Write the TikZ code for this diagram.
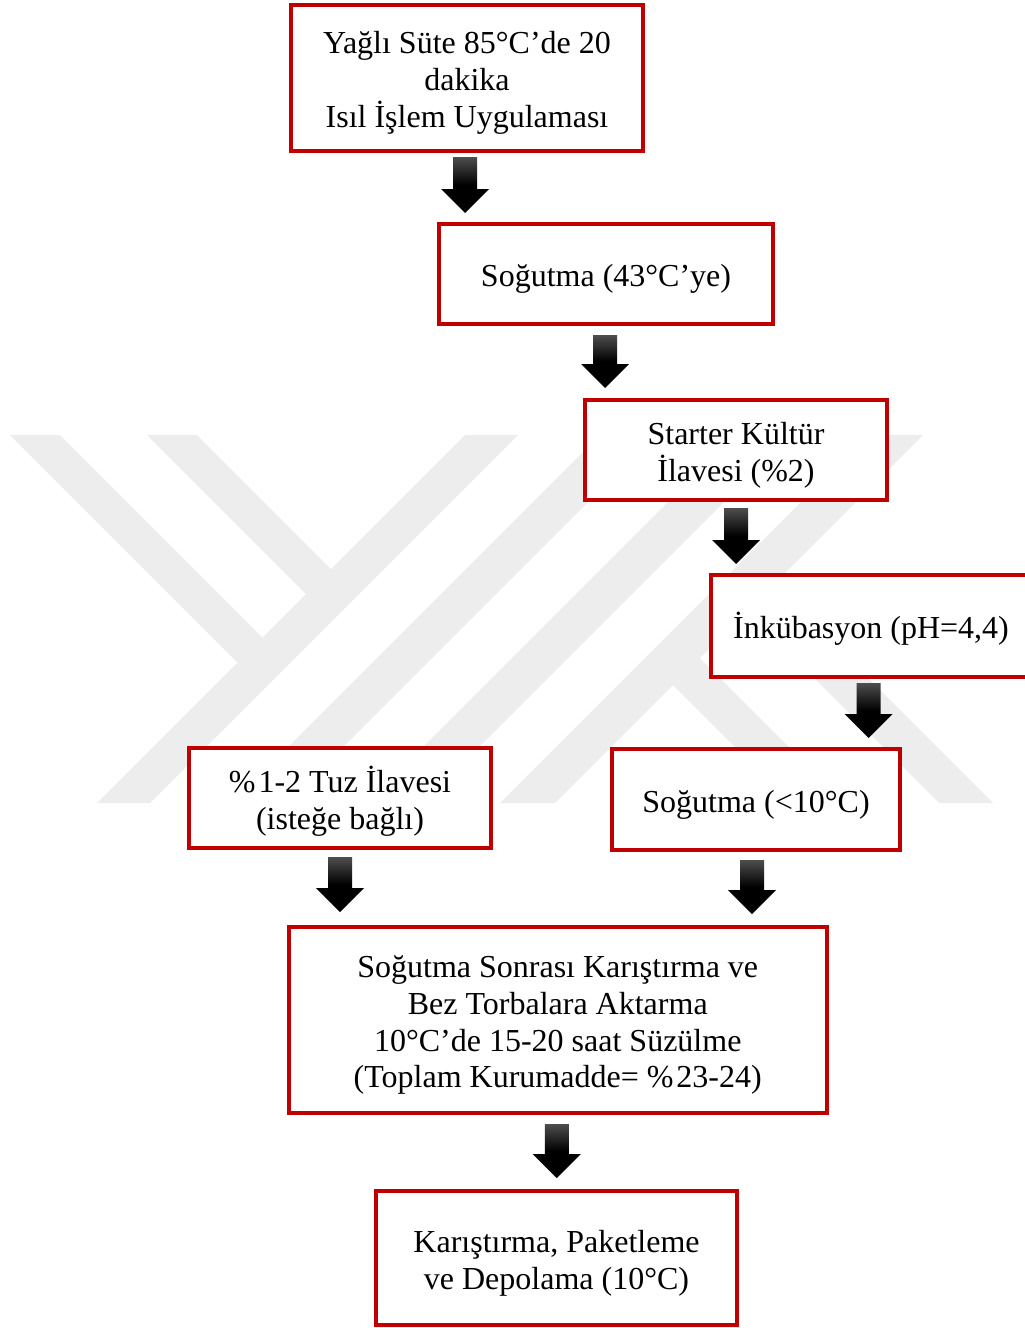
\documentclass[tikz,border=0pt]{standalone}
\usepackage{fontspec}
\setmainfont{Liberation Serif}
\usetikzlibrary{calc}
\definecolor{boxred}{RGB}{192,0,0}
\definecolor{wmgray}{RGB}{237,237,237}
\definecolor{arrowtop}{RGB}{78,78,78}
% uniform height for the first text line of every step
\newcommand{\firstline}{\rule{0pt}{32.5pt}}
% percent sign followed by a little extra room
\newcommand{\pct}{\%\kern3pt}
\tikzset{
  stepbox/.style={rectangle, draw=boxred, line width=4pt, fill=white,
    inner sep=0pt, outer sep=0pt, align=center,
    font=\fontsize{32}{36.8}\selectfont},
  blockarrow/.style={top color=arrowtop, bottom color=black, middle color=black,
    to path={let \p1=(\tikztostart), \p2=(\tikztotarget) in
      (\x1-12pt,\y1) -- (\x1+12pt,\y1) -- (\x1+12pt,\y2+24pt) -- (\x1+24pt,\y2+24pt)
      -- (\x1,\y2) -- (\x1-24pt,\y2+24pt) -- (\x1-12pt,\y2+24pt) -- cycle}},
  band/.style={fill=wmgray, draw=none}
}
\begin{document}
\begin{tikzpicture}[x=1pt,y=-1pt]
\useasboundingbox (0,0) rectangle (1025,1328);

% background emblem made of diagonal stripes
\path[band] (10,435) -- (60,435) -- (272.5,647.5) -- (247.5,672.5) -- cycle;
\path[band] (147,435) -- (197,435) -- (341,579) -- (316,604) -- cycle;
\path[band] (465,435) -- (518,435) -- (150,803) -- (97,803) -- cycle;
\path[band] (600,435) -- (655,435) -- (287,803) -- (232,803) -- cycle;
\path[band] (735,435) -- (791,435) -- (423,803) -- (367,803) -- cycle;
\path[band] (868,435) -- (923,435) -- (555,803) -- (500,803) -- cycle;
\path[band] (664,676) -- (691,649) -- (845,803) -- (791,803) -- cycle;
\path[band] (738,602) -- (765,575) -- (993,803) -- (939,803) -- cycle;

% process steps
\node[stepbox, minimum width=352pt, minimum height=145.5pt] (b1) at (467,77.75)
  {\firstline Yağlı Süte 85°C’de 20\\dakika\\Isıl İşlem Uygulaması};
\node[stepbox, minimum width=334pt, minimum height=100pt] (b2) at (606,274)
  {\firstline Soğutma (43°C’ye)};
\node[stepbox, minimum width=302pt, minimum height=100pt] (b3) at (736,450)
  {\firstline Starter Kültür\\İlavesi (\%2)};
\node[stepbox, minimum width=320pt, minimum height=102pt] (b4) at (871,626)
  {\firstline İnkübasyon (pH=4,4)};
\node[stepbox, minimum width=302pt, minimum height=100pt] (b5) at (340,798)
  {\firstline\pct 1-2 Tuz İlavesi\\(isteğe bağlı)};
\node[stepbox, minimum width=288pt, minimum height=101pt] (b6) at (756,799.5)
  {\firstline Soğutma (<10°C)};
\node[stepbox, minimum width=538.5pt, minimum height=185.7pt] (b7) at (557.75,1019.85)
  {\firstline Soğutma Sonrası Karıştırma ve\\Bez Torbalara Aktarma\\10°C’de 15-20 saat Süzülme\\(Toplam Kurumadde= \pct 23-24)};
\node[stepbox, minimum width=361pt, minimum height=134pt] (b8) at (556.5,1258)
  {\firstline Karıştırma, Paketleme\\ve Depolama (10°C)};

% block arrows between the steps
\path[blockarrow] ([xshift=-2pt,yshift=-6.5pt]b1.south) to ([yshift=11pt]b2.north);
\path[blockarrow] ([xshift=-1pt,yshift=-11pt]b2.south) to ([yshift=12pt]b3.north);
\path[blockarrow] ([yshift=-8pt]b3.south) to ([yshift=11pt]b4.north);
\path[blockarrow] ([xshift=-2.5pt,yshift=-6pt]b4.south) to ([yshift=11pt]b6.north);
\path[blockarrow] ([yshift=-9pt]b5.south) to ([yshift=15pt]b7.north);
\path[blockarrow] ([xshift=-4pt,yshift=-10pt]b6.south) to ([yshift=13pt]b7.north);
\path[blockarrow] ([xshift=-1pt,yshift=-11.3pt]b7.south) to ([yshift=13pt]b8.north);
\end{tikzpicture}
\end{document}
